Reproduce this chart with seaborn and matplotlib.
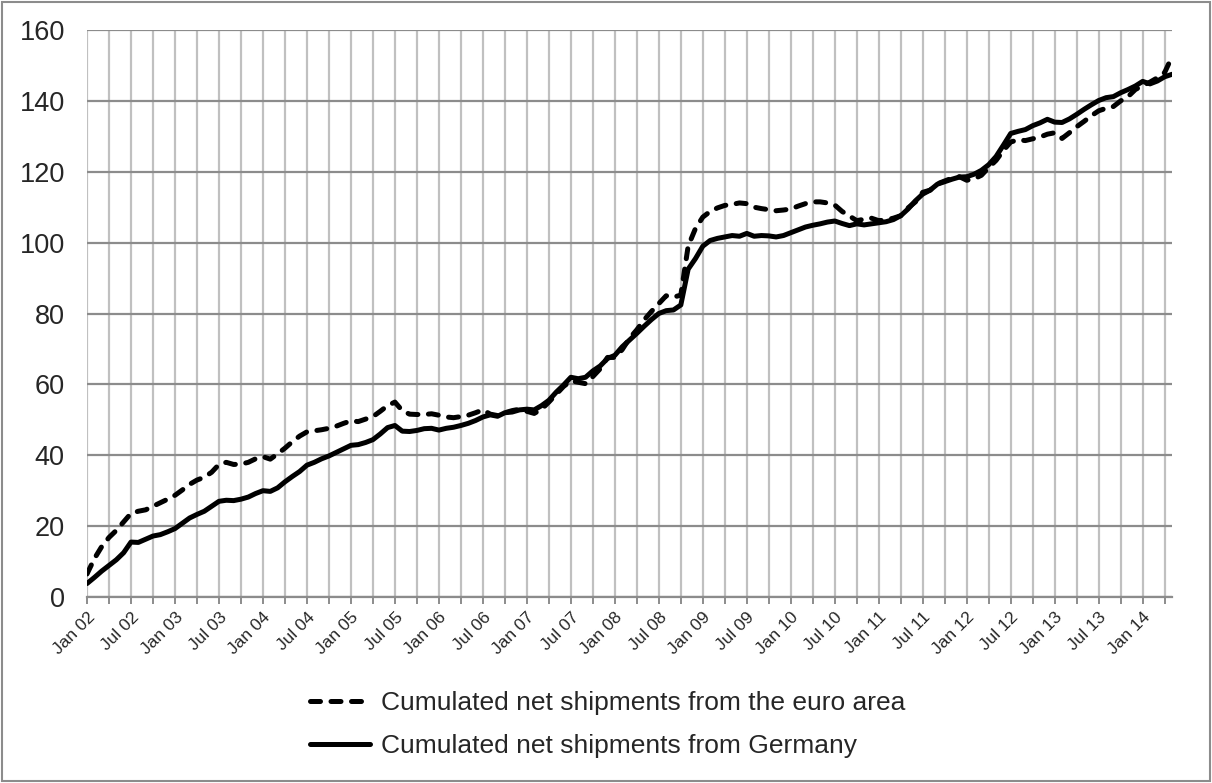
import numpy as np
import pandas as pd
import seaborn as sns
import matplotlib.pyplot as plt
from matplotlib.patches import Rectangle

# monthly values, Jan 2002 .. May 2014
euro_area = [
    6.5, 10.8, 14.2, 16.8, 18.8, 21.2, 23.6, 24.2, 24.6, 25.6, 26.6, 27.6,      # 2002
    28.7, 30.2, 31.8, 33.0, 33.8, 35.2, 37.4, 38.0, 37.4, 37.5, 38.0, 39.0,     # 2003
    39.6, 38.9, 40.4, 42.0, 43.8, 45.4, 46.6, 46.9, 47.2, 47.6, 48.2, 49.0,     # 2004
    49.7, 49.5, 50.2, 50.9, 52.4, 54.0, 55.0, 52.6, 51.6, 51.5, 51.5, 51.7,     # 2005
    51.3, 50.8, 50.6, 50.9, 51.3, 52.0, 52.8, 51.6, 51.2, 52.0, 52.6, 53.0,     # 2006
    52.4, 51.8, 53.0, 55.0, 57.2, 59.4, 61.0, 60.6, 60.2, 62.2, 64.4, 67.6,     # 2007
    67.6, 69.8, 73.0, 75.4, 78.2, 80.6, 82.8, 85.0, 84.6, 85.2, 99.0, 104.0,    # 2008
    107.2, 108.8, 109.8, 110.5, 110.8, 111.2, 111.0, 110.0, 109.6, 109.3, 109.0, 109.2,  # 2009
    109.5, 110.3, 111.0, 111.5, 111.5, 111.2, 110.6, 108.8, 107.5, 106.2, 106.6, 106.9,  # 2010
    106.2, 106.4, 106.9, 107.6, 109.8, 111.5, 114.2, 114.8, 116.6, 117.4, 118.2, 118.6,  # 2011
    117.6, 118.0, 119.0, 121.2, 123.2, 126.0, 128.4, 129.0, 128.8, 129.3, 129.8, 130.6,  # 2012
    131.0, 129.4, 131.0, 132.7, 134.2, 135.8, 137.2, 137.9, 138.4, 140.0, 141.2, 143.2,  # 2013
    144.3, 145.3, 146.5, 148.0, 152.5,                                                   # 2014
]

germany = [
    3.8, 5.5, 7.3, 8.9, 10.5, 12.5, 15.5, 15.4, 16.3, 17.2, 17.6, 18.4,
    19.3, 20.8, 22.3, 23.3, 24.2, 25.6, 27.0, 27.3, 27.2, 27.6, 28.2, 29.2,
    30.0, 29.8, 30.8, 32.5, 34.0, 35.4, 37.2, 38.0, 39.0, 39.8, 40.8, 41.8,
    42.8, 43.0, 43.6, 44.4, 46.0, 47.8, 48.4, 46.8, 46.7, 47.0, 47.5, 47.6,
    47.1, 47.6, 47.9, 48.4, 49.0, 49.8, 50.8, 51.4, 51.0, 52.0, 52.2, 52.8,
    53.0, 52.8, 54.0, 55.5, 57.8, 59.8, 62.0, 61.6, 62.0, 63.8, 65.2, 67.3,
    68.2, 70.6, 72.5, 74.4, 76.4, 78.3, 80.0, 80.8, 81.0, 82.4, 92.5, 95.5,
    99.0, 100.6, 101.2, 101.6, 102.0, 101.8, 102.6, 101.8, 102.0, 101.9, 101.6, 102.0,
    102.8, 103.6, 104.4, 104.9, 105.3, 105.8, 106.1, 105.4, 104.8, 105.3, 105.0, 105.3,
    105.6, 105.9, 106.5, 107.6, 109.5, 111.8, 113.7, 114.8, 116.5, 117.2, 117.9, 118.5,
    118.6, 119.3, 120.4, 122.0, 124.3, 127.5, 130.8, 131.4, 131.9, 133.0, 133.8, 134.8,
    134.0, 133.9, 134.9, 136.2, 137.6, 138.9, 140.1, 140.9, 141.2, 142.3, 143.2, 144.2,
    145.5, 144.8, 145.6, 146.8, 147.5,
]

tick_labels = ["Jan 02", "Jul 02", "Jan 03", "Jul 03", "Jan 04", "Jul 04",
               "Jan 05", "Jul 05", "Jan 06", "Jul 06", "Jan 07", "Jul 07",
               "Jan 08", "Jul 08", "Jan 09", "Jul 09", "Jan 10", "Jul 10",
               "Jan 11", "Jul 11", "Jan 12", "Jul 12", "Jan 13", "Jul 13",
               "Jan 14"]

label_ea = "Cumulated net shipments from the euro area"
label_de = "Cumulated net shipments from Germany"

df = pd.DataFrame({"month": np.arange(len(germany)), "ea": euro_area, "de": germany})

sns.set_theme(style="white")
plt.rcParams['font.family'] = ['Liberation Sans', 'DejaVu Sans']

fig = plt.figure(figsize=(12.12, 7.83), dpi=100)
ax = fig.add_axes([87 / 1212, 1 - 597 / 783, 1085 / 1212, 567 / 783])

sns.lineplot(data=df, x="month", y="ea", ax=ax, color="black", lw=3.6, label=label_ea)
sns.lineplot(data=df, x="month", y="de", ax=ax, color="black", lw=3.6, label=label_de)
ln_ea, ln_de = ax.lines[0], ax.lines[1]
ln_ea.set_dashes((2.0, 2.1))
ln_ea.set_dash_capstyle("round")
ln_de.set_solid_capstyle("round")
ln_de.set_solid_joinstyle("round")

ax.set_xlim(0, 148)
ax.set_ylim(0, 160)
ax.set_yticks(np.arange(0, 161, 20))
ax.set_xticks(np.arange(0, 148, 6))
ax.set_xticks(np.arange(3, 148, 6), minor=True)
ax.set_xticklabels(tick_labels, rotation=45, ha="right", rotation_mode="anchor")
ax.set_xlabel("")
ax.set_ylabel("")

ax.grid(axis="y", color="#8c8c8c", lw=1.6)
ax.grid(axis="x", which="both", color="#c0c0c0", lw=1.6)
ax.set_axisbelow(True)
for s in ["top", "right", "left"]:
    ax.spines[s].set_visible(False)
ax.spines["bottom"].set_color("#8c8c8c")
ax.spines["bottom"].set_linewidth(1.6)

ax.tick_params(axis="x", which="both", bottom=True, direction="out", length=5,
               width=1.4, color="#8c8c8c", labelsize=12.5, pad=4)
ax.tick_params(axis="y", length=0, labelsize=19.5, pad=16)

ax.get_legend().remove()
fig.legend([ln_ea, ln_de], [label_ea, label_de], loc="upper left",
           bbox_to_anchor=(286 / 1212, 1 - 667 / 783), frameon=False,
           fontsize=19, handlelength=2.3, handletextpad=0.4, labelspacing=0.72)

fig.patches.append(Rectangle((0.0015, 0.002), 0.997, 0.996, transform=fig.transFigure,
                             fill=False, edgecolor="#8c8c8c", lw=1.5))

fig.savefig("out.png", dpi=100)
